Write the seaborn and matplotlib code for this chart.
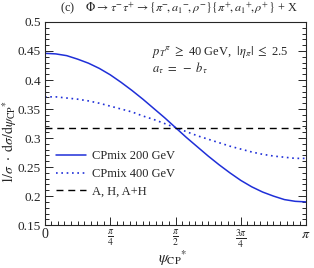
import numpy as np
import pandas as pd
import seaborn as sns
import matplotlib.pyplot as plt
from matplotlib.ticker import MultipleLocator

# values, psi from 0 to pi in steps of pi/24
psi = np.arange(25) * np.pi / 24
cpmix_200 = [0.446, 0.445, 0.442, 0.436, 0.429, 0.420, 0.409, 0.396, 0.382, 0.367, 0.351, 0.335, 0.318,
             0.301, 0.285, 0.269, 0.254, 0.240, 0.227, 0.216, 0.207, 0.200, 0.194, 0.191, 0.190]
cpmix_400 = [0.371, 0.371, 0.369, 0.367, 0.364, 0.360, 0.355, 0.350, 0.345, 0.338, 0.332, 0.325, 0.318,
             0.311, 0.304, 0.298, 0.292, 0.286, 0.281, 0.276, 0.272, 0.269, 0.267, 0.265, 0.265]
flat = [0.318] * 25

labels = ['CPmix 200 GeV', 'CPmix 400 GeV', 'A, H, A+H']
xtick_labels = ['0', r'$\frac{\pi}{4}$', r'$\frac{\pi}{2}$', r'$\frac{3\pi}{4}$', r'$\pi$']
ytick_vals = [0.15, 0.2, 0.25, 0.3, 0.35, 0.4, 0.45, 0.5]

sns.set_style('ticks')
plt.rcParams['font.family'] = ['Liberation Serif', 'DejaVu Serif']
plt.rcParams['mathtext.fontset'] = 'stix'
plt.rcParams['font.size'] = 9

fig = plt.figure(figsize=(3.14, 2.68), dpi=100)
ax = fig.add_axes([0.143, 0.160, 0.832, 0.758])

blue = '#1f2fd8'
sns.lineplot(x=psi, y=cpmix_200, ax=ax, color=blue, lw=1.1, label=labels[0])
sns.lineplot(x=psi, y=cpmix_400, ax=ax, color=blue, lw=1.2, ls=(0, (1, 2.2)), label=labels[1])
sns.lineplot(x=psi, y=flat, ax=ax, color='black', lw=1.0, ls=(0, (5, 3.5)), label=labels[2])

ax.set_xlim(0, np.pi)
ax.set_ylim(0.15, 0.5)
ax.set_xticks(np.arange(5) * np.pi / 4)
ax.set_xticklabels(xtick_labels, fontsize=10)
ax.xaxis.set_minor_locator(MultipleLocator(np.pi / 40))
ax.set_yticks(ytick_vals)
ax.set_yticklabels([f'{v:g}' for v in ytick_vals], fontsize=9.5)
ax.yaxis.set_minor_locator(MultipleLocator(0.01))
ax.tick_params(which='both', direction='in', right=True, top=False, width=0.7)
ax.tick_params(which='major', length=6)
ax.tick_params(which='minor', length=3)
ax.tick_params(axis='x', pad=2)
ax.tick_params(axis='y', pad=3)
for s in ax.spines.values():
    s.set_linewidth(0.8)

ax.set_xlabel(r'$\psi_{\rm CP}{}^{*}$', fontsize=11)
ax.xaxis.set_label_coords(0.49, -0.115)
ax.set_ylabel(r'$1/\sigma\ \cdot\ {\rm d}\sigma/{\rm d}\psi_{\rm CP}{}^{*}$', fontsize=10)
ax.yaxis.set_label_coords(-0.10, 0.41)

fig.text(0.19, 0.965, r'(c)    $\Phi \rightarrow \tau^{-}\tau^{+} \rightarrow \{\pi^{-}\!,a_1{}^{-}\!,\rho^{-}\}\{\pi^{+}\!,a_1{}^{+}\!,\rho^{+}\}$ + X',
         fontsize=8.8, va='center')
ax.text(0.41, 0.835, r'$p_T{}^{\pi}$ $\geq$ 40 GeV,  $|\eta_{\pi}|$ $\leq$ 2.5', transform=ax.transAxes, fontsize=9)
ax.text(0.41, 0.755, r'$a_{\tau}\ =\ -\ b_{\tau}$', transform=ax.transAxes, fontsize=9)

ax.legend(loc='lower left', bbox_to_anchor=(0.0, 0.08), frameon=False, fontsize=9,
          handlelength=2.4, handletextpad=0.5, labelspacing=0.45)

fig.savefig('out.png', dpi=100)
